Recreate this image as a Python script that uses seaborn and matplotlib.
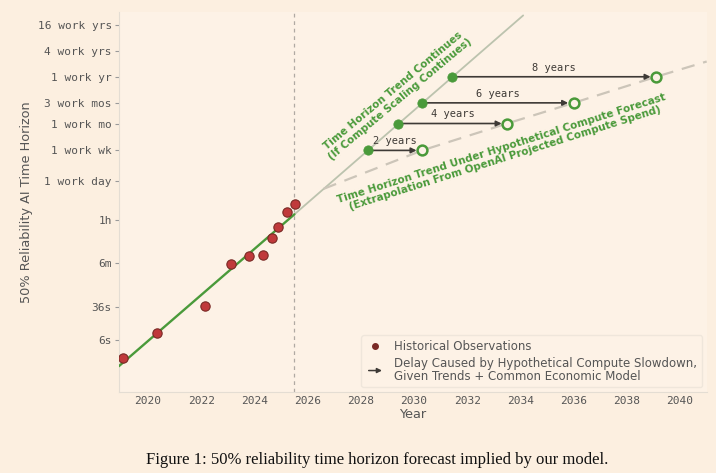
import numpy as np
import pandas as pd
import matplotlib
matplotlib.use("Agg")
import matplotlib.pyplot as plt
import seaborn as sns
from matplotlib.lines import Line2D
from matplotlib.legend_handler import HandlerBase
from matplotlib.patches import FancyArrowPatch

# Historical observations (time horizon in hours)
obs_year = [2019.07, 2020.34, 2022.15, 2023.12, 2023.79, 2024.32, 2024.65, 2024.87, 2025.24, 2025.54]
obs_hours = [2.4 / 3600, 8.8 / 3600, 37 / 3600, 5.8 / 60, 8.8 / 60, 9.5 / 60, 22.5 / 60, 41 / 60, 1.53, 2.33]

# Exponential trend: fitted part and continuation
fit_year = [2018.9, 2025.5]
fit_hours = [4.2e-4, 1.34]
cont_year = [2025.5, 2034.1]
cont_hours = [1.34, 52000]

# Slower trend under compute forecast
slow_year = [2026.6, 2030.3, 2033.5, 2036.0, 2039.1, 2041.0]
slow_hours = [5.2, 40, 167, 500, 2000, 4500]

# Milestones on the trend and where they land under the slowdown
ms_hours = [40, 167, 500, 2000]
ms_year_trend = [2028.27, 2029.4, 2030.3, 2031.44]
ms_year_slow = [2030.3, 2033.5, 2036.0, 2039.1]
delay_labels = ["2 years", "4 years", "6 years", "8 years"]

# Y ticks
ytick_hours = [1 / 600, 0.01, 0.1, 1, 8, 40, 2000 / 12, 500, 2000, 8000, 32000]
ytick_labels = ["6s", "36s", "6m", "1h", "1 work day", "1 work wk", "1 work mo",
                "3 work mos", "1 work yr", "4 work yrs", "16 work yrs"]
xticks = [2020, 2022, 2024, 2026, 2028, 2030, 2032, 2034, 2036, 2038, 2040]

now_year = 2025.5

bg = "#fcefe0"
axbg = "#fdf2e6"
green = "#4a9a3a"
txt_gray = "#555555"
arrow_col = "#3e3a36"


class ArrowHandler(HandlerBase):
    def create_artists(self, legend, orig_handle, xdescent, ydescent,
                       width, height, fontsize, trans):
        y = height / 2 - ydescent
        arr = FancyArrowPatch((-xdescent, y), (width - xdescent, y),
                              arrowstyle="-|>", mutation_scale=7, lw=1.1,
                              color=arrow_col, transform=trans)
        return [arr]


sns.set_theme(style="white")
plt.rcParams["font.family"] = ["DejaVu Sans"]

fig = plt.figure(figsize=(7.16, 4.73), dpi=100, facecolor=bg)
ax = fig.add_axes([0.166, 0.171, 0.821, 0.804])
ax.set_facecolor(axbg)
ax.set_yscale("log")

# lines
sns.lineplot(x=cont_year, y=cont_hours, ax=ax, color="#bcc3ae", lw=1.3, zorder=2)
sns.lineplot(x=slow_year, y=slow_hours, ax=ax, color="#ccc5b9", lw=1.6, zorder=2)
ax.lines[-1].set_dashes([6, 4])
sns.lineplot(x=fit_year, y=fit_hours, ax=ax, color=green, lw=1.7, zorder=3)

ax.axvline(now_year, color="#b0aaa3", lw=0.9, ls=(0, (3, 3)), zorder=1)

# historical points
obs = pd.DataFrame({"year": obs_year, "hours": obs_hours})
sns.scatterplot(data=obs, x="year", y="hours", ax=ax, s=45, color="#c0393b",
                edgecolor="#7a2a25", linewidth=0.8, zorder=4)

# delay arrows
for xs, xe, h, lab in zip(ms_year_trend, ms_year_slow, ms_hours, delay_labels):
    ax.annotate("", xy=(xe, h), xytext=(xs, h),
                arrowprops=dict(arrowstyle="-|>", color=arrow_col, lw=1.2,
                                shrinkA=0, shrinkB=4, mutation_scale=8), zorder=5)
    ax.annotate(lab, xy=((xs + xe) / 2, h), xytext=(0, 3), textcoords="offset points",
                ha="center", va="bottom", fontsize=7.5, family="DejaVu Sans Mono",
                color=arrow_col)

sns.scatterplot(x=ms_year_trend, y=ms_hours, ax=ax, s=45, color=green,
                edgecolor=green, zorder=6)
sns.scatterplot(x=ms_year_slow, y=ms_hours, ax=ax, s=50, color=axbg,
                edgecolor=green, linewidth=1.8, zorder=6)

# trend labels
ax.text(2029.34, 760, "Time Horizon Trend Continues\n(If Compute Scaling Continues)",
        rotation=40, ha="center", va="center", rotation_mode="anchor",
        fontsize=7.5, fontweight="bold", color=green, linespacing=1.0)
ax.text(2033.36, 35, "Time Horizon Trend Under Hypothetical Compute Forecast\n"
        "(Extrapolation From OpenAI Projected Compute Spend)",
        rotation=17.5, ha="center", va="center", rotation_mode="anchor",
        fontsize=7.5, fontweight="bold", color=green, linespacing=1.0)

ax.set_xlim(2018.9, 2041.0)
ax.set_ylim(1.06e-4, 63000)
ax.set_xticks(xticks)
ax.set_xticklabels([str(x) for x in xticks], family="DejaVu Sans Mono", fontsize=8, color=txt_gray)
ax.set_yticks(ytick_hours)
ax.set_yticklabels(ytick_labels, family="DejaVu Sans Mono", fontsize=8, color=txt_gray)
ax.minorticks_off()
ax.tick_params(axis="y", left=True, length=3, width=0.8, color="#9a9a9a", pad=2)
ax.tick_params(axis="x", bottom=False, length=0, pad=3)

ax.set_xlabel("Year", fontsize=9.3, color=txt_gray, labelpad=1)
ax.set_ylabel("50% Reliability AI Time Horizon", fontsize=9.3, color=txt_gray, labelpad=3)

for side in ["top", "right"]:
    ax.spines[side].set_visible(False)
for side in ["left", "bottom"]:
    ax.spines[side].set_color("#e4ddd3")
    ax.spines[side].set_linewidth(0.8)

dot_handle = Line2D([], [], ls="none", marker="o", markersize=4, color="#7a2a25")
arrow_handle = Line2D([], [], color=arrow_col)
labels = ["Historical Observations",
          "Delay Caused by Hypothetical Compute Slowdown,\nGiven Trends + Common Economic Model"]
leg = ax.legend([dot_handle, arrow_handle], labels, loc="lower right", fontsize=8.5,
                frameon=True, borderaxespad=0.4, labelspacing=0.3, handletextpad=0.8,
                handlelength=1.6, facecolor=axbg, edgecolor="#ece4d9",
                handler_map={arrow_handle: ArrowHandler()})
for t in leg.get_texts():
    t.set_color(txt_gray)
    t.set_linespacing(1.0)

fig.text(0.527, 0.027, "Figure 1: 50% reliability time horizon forecast implied by our model.",
         ha="center", va="center", fontsize=12, family="Liberation Serif", color="#111111")

fig.savefig("out.png", dpi=100, facecolor=bg)
